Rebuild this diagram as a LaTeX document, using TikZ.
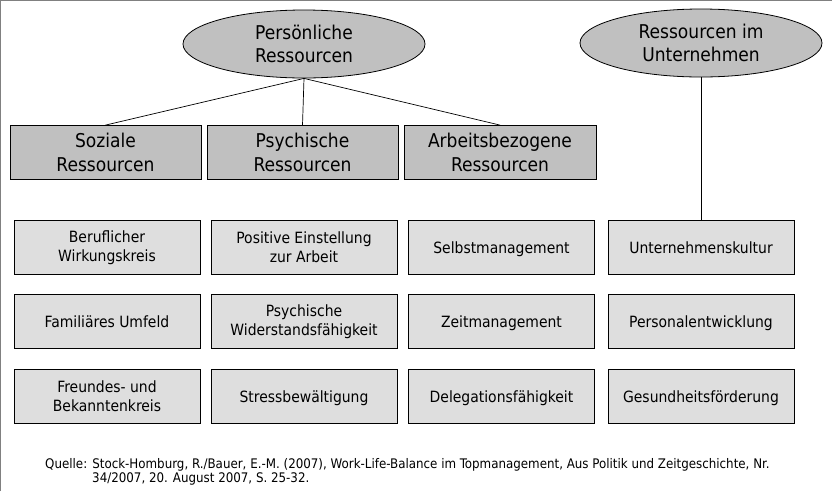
\documentclass[tikz,border=0pt]{standalone}
\usepackage{fontspec}
\setmainfont{DejaVu Sans Condensed}
\usetikzlibrary{shapes.geometric}
\definecolor{hdrgray}{HTML}{C0C0C0}
\definecolor{boxgray}{HTML}{DEDEDE}
\definecolor{framegray}{HTML}{808080}
\tikzset{
  ell/.style={ellipse, draw=black, line width=0.8pt, fill=hdrgray, minimum width=242pt, minimum height=68pt, inner sep=0pt, align=center, font=\fontsize{19}{23.5}\selectfont},
  hdr/.style={rectangle, draw=black, line width=0.8pt, fill=hdrgray, minimum width=191pt, minimum height=54pt, inner sep=0pt, align=center, font=\fontsize{19}{23.5}\selectfont},
  item/.style={rectangle, draw=black, line width=0.8pt, fill=boxgray, minimum width=186pt, minimum height=54pt, inner sep=0pt, align=center, font=\fontsize{15.5}{19}\selectfont},
  single/.style={text height=14pt, text depth=2pt},
  conn/.style={draw=black, line width=0.7pt},
  src/.style={anchor=base west, inner sep=0pt, font=\fontsize{13.2}{14}\selectfont}
}
\begin{document}
\begin{tikzpicture}[x=1pt,y=-1pt]
\useasboundingbox (0,0) rectangle (832,491);
\fill[white] (0,0) rectangle (832,491);
\draw[framegray, line width=1pt] (0.5,491) -- (0.5,0.5) -- (832,0.5);

\node[ell] (pers) at (304,44) {Persönliche\\Ressourcen};
\node[ell] (unt) at (701,43) {Ressourcen im\\Unternehmen};

\node[hdr] (soz) at (105.5,152.5) {Soziale\\Ressourcen};
\node[hdr] (psy) at (302.5,152.5) {Psychische\\Ressourcen};
\node[hdr, minimum width=192pt] (arb) at (500,152.5) {Arbeitsbezogene\\Ressourcen};

\node[item] (a1) at (107,247.5) {Beruflicher\\Wirkungskreis};
\node[item, single] (a2) at (107,321.5) {Familiäres Umfeld};
\node[item] (a3) at (107,396) {Freundes- und\\Bekanntenkreis};

\node[item] (b1) at (304,247.5) {Positive Einstellung\\zur Arbeit};
\node[item] (b2) at (304,321.5) {Psychische\\Widerstandsfähigkeit};
\node[item, single] (b3) at (304,396) {Stressbewältigung};

\node[item, single] (c1) at (501.5,247.5) {Selbstmanagement};
\node[item, single] (c2) at (501.5,321.5) {Zeitmanagement};
\node[item, single] (c3) at (501.5,396) {Delegationsfähigkeit};

\node[item, single] (d1) at (701,247.5) {Unternehmenskultur};
\node[item, single] (d2) at (701,321.5) {Personalentwicklung};
\node[item, single] (d3) at (701,396) {Gesundheitsförderung};

\draw[conn] (pers.south) -- (soz.north);
\draw[conn] (pers.south) -- (psy.north);
\draw[conn] (pers.south) -- (arb.north);
\draw[conn] (unt.south) -- (d1.north);

\node[src] (q1) at (45,468) {Quelle: Stock-Homburg, R./Bauer, E.-M. (2007), Work-Life-Balance im Topmanagement, Aus Politik und Zeitgeschichte, Nr.};
\node[src] (q2) at (92,482) {34/2007, 20. August 2007, S. 25-32.};
\end{tikzpicture}
\end{document}
